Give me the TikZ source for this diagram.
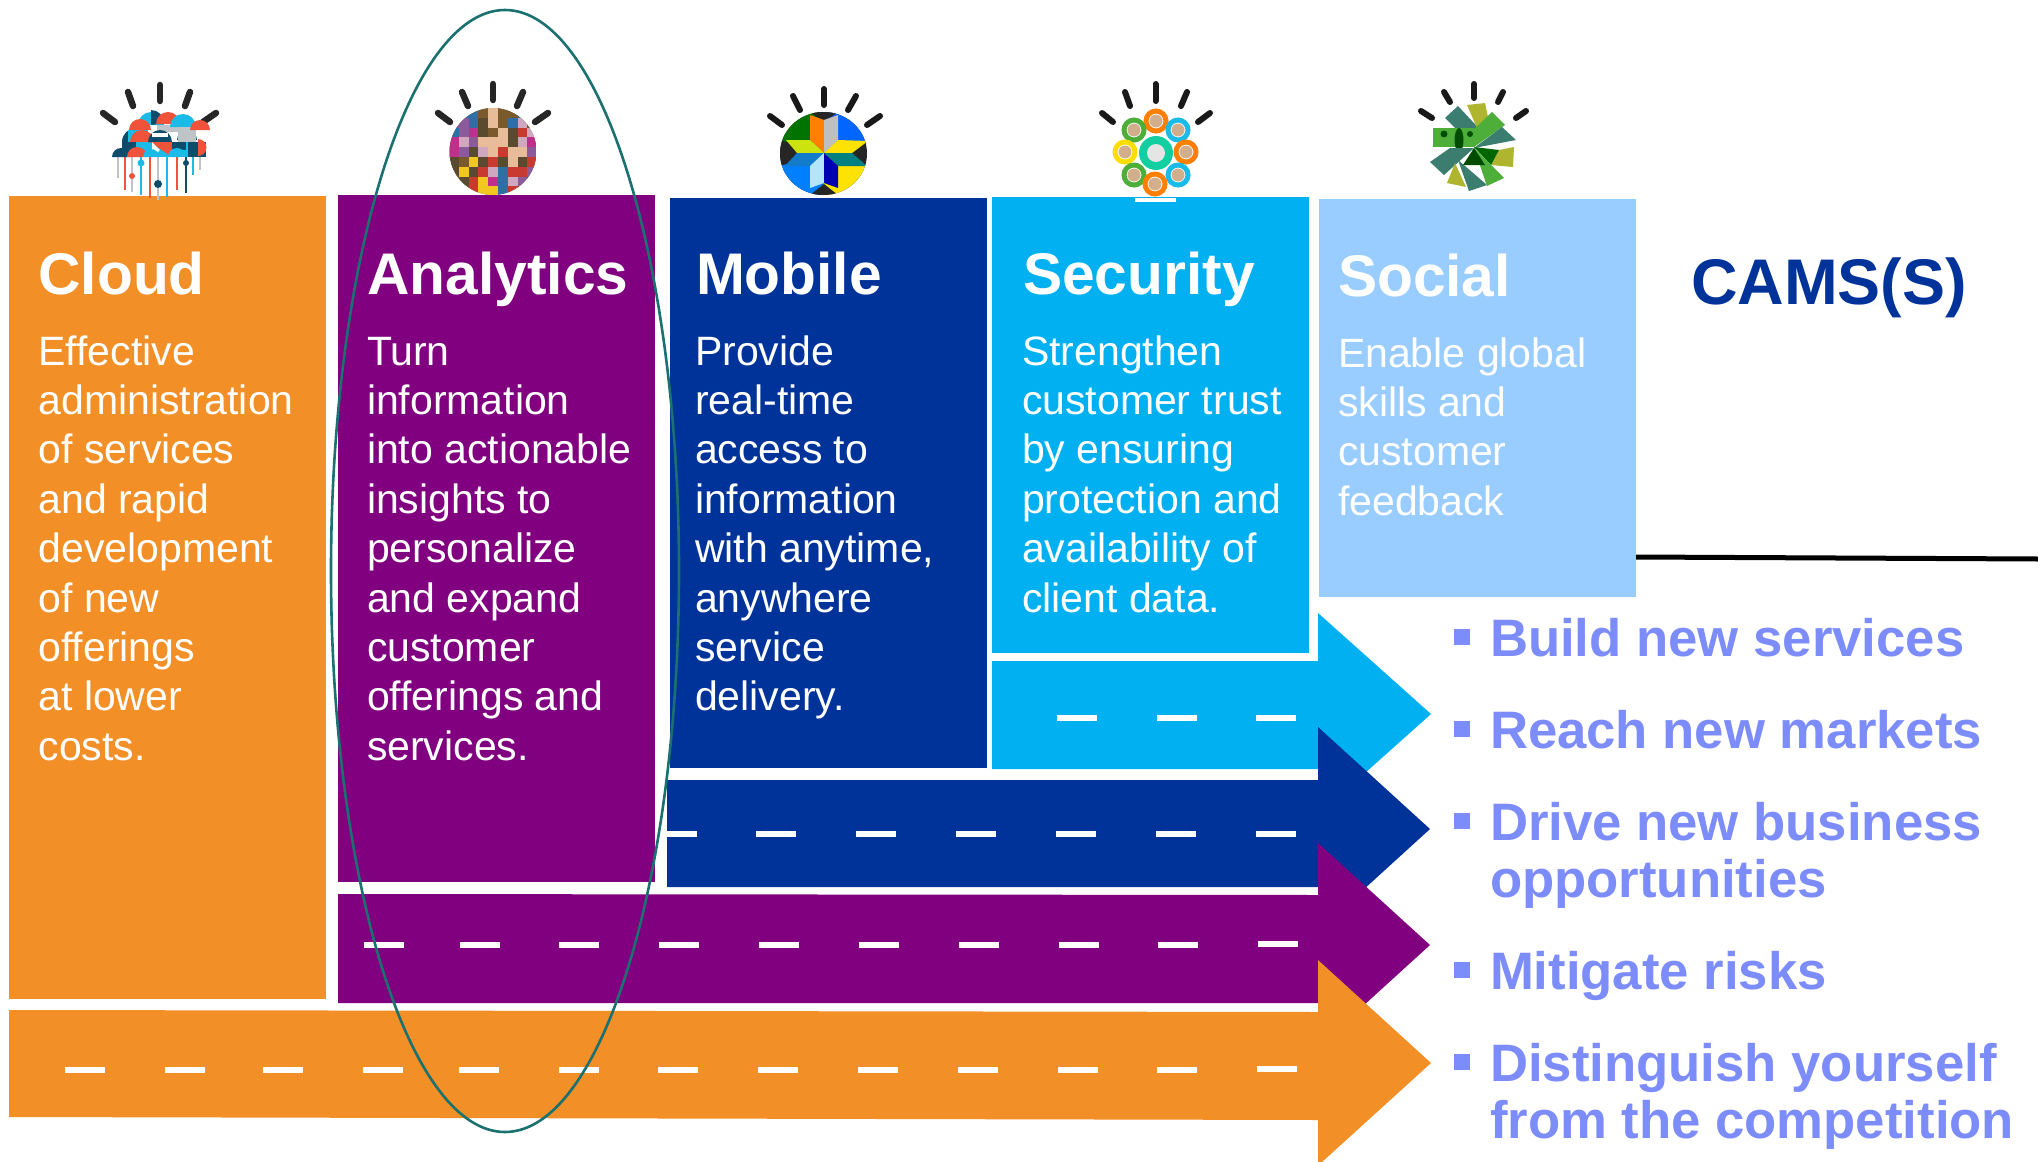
\documentclass[tikz,border=0pt]{standalone}
\usepackage{fontspec}
\setmainfont{Liberation Sans}
\definecolor{corange}{HTML}{F28F26}
\definecolor{cpurple}{HTML}{800080}
\definecolor{cblue}{HTML}{003399}
\definecolor{ccyan}{HTML}{00B0F0}
\definecolor{clight}{HTML}{99CCFF}
\definecolor{cbullet}{HTML}{7C8CFA}
\definecolor{cteal}{HTML}{1B7070}
\definecolor{cnavy}{HTML}{0F4C6B}
\definecolor{csky}{HTML}{1ABBE6}
\definecolor{cred}{HTML}{F0523A}
\definecolor{cgray}{HTML}{BFC4C8}
\definecolor{sgreen}{HTML}{4DAF3A}
\definecolor{solive}{HTML}{B0B530}
\definecolor{sdeep}{HTML}{3B7D6E}
\definecolor{mA}{HTML}{7A5A2A}
\definecolor{mB}{HTML}{2F6FA8}
\definecolor{mC}{HTML}{8A5A9A}
\definecolor{mD}{HTML}{C0308A}
\definecolor{mE}{HTML}{E8BC98}
\definecolor{mF}{HTML}{C83A30}
\definecolor{mG}{HTML}{F2C820}
\definecolor{mH}{HTML}{5A4A30}
\definecolor{mI}{HTML}{CFA8C0}
\tikzset{
  txt/.style={anchor=north west,inner sep=0pt,outer sep=0pt,align=left,text=white},
  titletxt/.style={txt,font=\fontsize{58.7}{60}\selectfont\bfseries},
  bodytxt/.style={txt,font=\fontsize{41}{49.4}\selectfont},
  sidetxt/.style={txt,text=cbullet,font=\fontsize{52.7}{57}\selectfont\bfseries},
  ray/.style={line width=6.5pt,line cap=round,draw=black!85},
  thinray/.style={line width=6pt,line cap=round,draw=black!90},
  dashbar/.style={fill=white},
  bullet/.style={fill=cbullet},
}
\newcommand{\fl}{\rule{0pt}{60pt}}
\newcommand{\halfd}[4]{\fill[#4] ({#1-#3},#2) arc[start angle=180,end angle=0,radius=#3pt] -- cycle;}
\newcommand{\drops}[3]{\draw[#3,line width=1.8pt] (#1,157) -- (#1,#2);}
\begin{document}
\begin{tikzpicture}[x=1pt,y=-1pt]
\useasboundingbox (0,0) rectangle (2038,1162);
\fill[white] (0,0) rectangle (2038,1162);

% columns
\fill[corange] (9,196) rectangle (326,999);
\fill[cpurple] (338,195) rectangle (655,882);
\fill[cblue] (670,198) rectangle (987,768);
\fill[ccyan] (992,197) rectangle (1309,653);
\fill[clight] (1319,199) rectangle (1636,597);
\fill[white] (1135,198) rectangle (1176,202);

% black rule
\draw[black,line width=5pt] (1636,557) -- (2038,559);

% arrows
\fill[ccyan] (992,661) -- (1318,661) -- (1318,613) -- (1431,714) -- (1318,815) -- (1318,769) -- (992,769) -- cycle;
\fill[cblue] (667,780) -- (1318,780) -- (1318,727) -- (1430,829) -- (1318,931) -- (1318,887) -- (667,887) -- cycle;
\fill[cpurple] (338,894) -- (1318,895) -- (1318,843) -- (1430,945) -- (1318,1047) -- (1318,1003) -- (338,1003) -- cycle;
\fill[corange] (9,1010) -- (1318,1012) -- (1318,960) -- (1431,1063) -- (1322,1162) -- (1318,1162) -- (1318,1120) -- (9,1117) -- cycle;

% dashes
\foreach \x in {1057,1157,1256} \fill[dashbar] (\x,715) rectangle +(40,6);
\fill[dashbar] (667,830.5) rectangle (697,836.5);
\foreach \x in {756,856,956,1056,1156,1256} \fill[dashbar] (\x,830.5) rectangle +(40,6);
\foreach \x in {364,460,559,659,759,859,959,1059,1158} \fill[dashbar] (\x,942) rectangle +(40,6);
\fill[dashbar] (1258,941) rectangle +(40,6);
\foreach \x in {65,165,263,363,459,559,658,758,858,958,1058,1157} \fill[dashbar] (\x,1067) rectangle +(40,6);
\fill[dashbar] (1257,1066) rectangle +(40,6);

% cloud icon
\begin{scope}
\draw[ray] (160,85) -- (160,101);
\draw[ray] (128,92) -- (133,106);
\draw[ray] (190,92) -- (185,106);
\draw[ray] (103,113) -- (115,122);
\draw[ray] (216,113) -- (203,122);
\drops{118}{178}{cgray}
\drops{125}{190}{cred}
\drops{132}{192}{cgray}
\drops{141}{195}{csky}
\drops{150}{198}{cred}
\drops{158}{200}{cgray}
\drops{167}{197}{csky}
\drops{177}{190}{cred}
\drops{186}{193}{cnavy}
\drops{193}{175}{csky}
\drops{200}{170}{cgray}
\fill[cnavy] (158,184) circle (4pt);
\fill[csky] (141,163) circle (3.5pt);
\fill[cred] (132,176) circle (3pt);
\fill[cnavy] (186,163) circle (3pt);
% body of the cloud
\fill[csky] (135,142) rectangle (206,157);
\halfd{151}{125}{13}{csky}
\fill[cnavy] (151,125) -- (151,110) arc[start angle=90,end angle=0,radius=13pt] -- (151,125);
\fill[cgray] (157,125) rectangle (181,132);
\halfd{168}{124}{12}{cred}
\fill[cnavy] (122,142) arc[start angle=180,end angle=90,radius=14pt] -- (136,142) -- cycle;
\halfd{140}{130}{11}{cred}
\fill[csky] (170,127) arc[start angle=180,end angle=0,radius=13pt] -- cycle;
\fill[cnavy] (177,140) arc[start angle=180,end angle=0,radius=10pt] -- cycle;
\fill[csky] (128,130) rectangle (148,142);
\halfd{142}{142}{12}{cred}
\fill[cgray] (178,127) rectangle (196,142);
\fill[cnavy] (148,142) arc[start angle=180,end angle=0,radius=12pt] -- cycle;
\fill[white] (152,133) rectangle (168,137);
\fill[cnavy] (122,142) rectangle (136,157);
\fill[csky] (136,142) rectangle (148,157);
\fill[cred] (150,142) -- (172,142) -- (172,157) -- cycle;
\fill[white] (152,142) -- (160,150) -- (152,157) -- cycle;
\fill[cnavy] (172,142) rectangle (186,150);
\fill[cnavy] (188,142) rectangle (206,157);
\fill[cred] (190,130) arc[start angle=180,end angle=0,radius=10pt] -- cycle;
\fill[cred] (198,139) arc[start angle=90,end angle=-90,radius=8.5pt] -- cycle;
\fill[cnavy] (112,157) arc[start angle=180,end angle=0,radius=9pt] -- cycle;
\fill[cred] (127,157) arc[start angle=180,end angle=0,radius=10pt] -- cycle;
\fill[csky] (143,157) arc[start angle=180,end angle=0,radius=8pt] -- cycle;
\fill[csky] (168,157) arc[start angle=180,end angle=0,radius=9pt] -- cycle;
\end{scope}

% analytics icon
\draw[ray] (493,84) -- (493,100);
\draw[ray] (462,92) -- (468,106);
\draw[ray] (523,92) -- (517,106);
\draw[ray] (438,113) -- (450,122);
\draw[ray] (548,113) -- (535,122);
\begin{scope}
\clip (493,151.5) ellipse [x radius=43.5pt,y radius=43.5pt];
\fill[mH] (449,108) rectangle (537,196);
\foreach \c [count=\i from 0] in {
 mA,mB,mB,mA,mE,mA,mA,mB,mA,
 mC,mC,mB,mH,mE,mA,mB,mI,mA,
 mB,mC,mD,mH,mA,mE,mH,mF,mI,
 mD,mI,mC,mE,mE,mE,mH,mI,mD,
 mD,mC,mH,mI,mE,mF,mE,mE,mC,
 mH,mA,mG,mH,mF,mH,mE,mH,mF,
 mH,mG,mH,mF,mI,mB,mF,mF,mC,
 mA,mH,mF,mG,mD,mB,mI,mC,mH,
 mA,mA,mF,mG,mG,mB,mF,mH,mA}{
  \pgfmathtruncatemacro{\cx}{mod(\i,9)}
  \pgfmathtruncatemacro{\cy}{\i/9}
  \fill[\c] ({449+\cx*9.8},{108+\cy*9.8}) rectangle +(9.8,9.8);
}
\end{scope}

% mobile icon
\draw[thinray] (824,89) -- (824,105);
\draw[thinray] (793,96) -- (800,110);
\draw[thinray] (856,96) -- (848,110);
\draw[thinray] (770,116) -- (782,125);
\draw[thinray] (880,116) -- (867,125);
\begin{scope}
\clip (823.5,153.5) ellipse [x radius=43.5pt,y radius=41.5pt];
\fill[black!85] (780,112) rectangle (867,195);
\fill[green!45!black] (780,112) -- (824,112) -- (824,153) -- (780,140) -- cycle;
\fill[blue!60!cyan] (867,112) -- (824,112) -- (824,153) -- (867,140) -- cycle;
\fill[blue!50!cyan] (780,195) -- (824,195) -- (824,153) -- (780,166) -- cycle;
\fill[yellow!85!orange] (867,195) -- (824,195) -- (824,153) -- (867,166) -- cycle;
\fill[black!85] (810,112) -- (838,112) -- (824,122) -- cycle;
\fill[black!85] (810,195) -- (838,195) -- (824,184) -- cycle;
\fill[black!85] (780,140) -- (797,153) -- (780,166) -- cycle;
\fill[black!85] (867,140) -- (852,153) -- (867,166) -- cycle;
\fill[orange] (824,153) -- (824,120) -- (810,115) -- (810,140) -- cycle;
\fill[gray!50] (824,153) -- (824,120) -- (838,115) -- (838,140) -- cycle;
\fill[yellow!80!green] (824,153) -- (810,140) -- (786,140) -- (797,153) -- cycle;
\fill[cyan!60!blue] (824,153) -- (797,153) -- (785,166) -- (810,166) -- cycle;
\fill[yellow!85!orange] (824,153) -- (838,140) -- (868,141) -- (852,153) -- cycle;
\fill[teal] (824,153) -- (852,153) -- (867,166) -- (838,166) -- cycle;
\fill[cyan!30] (824,153) -- (810,166) -- (810,188) -- (824,183) -- cycle;
\fill[blue!70!black] (824,153) -- (838,166) -- (838,188) -- (824,183) -- cycle;
\end{scope}

% security icon
\draw[thinray] (1155.5,84) -- (1155.5,101);
\draw[thinray] (1125,92) -- (1130,106);
\draw[thinray] (1187,92) -- (1181,106);
\draw[thinray] (1102,113) -- (1113,122);
\draw[thinray] (1210,113) -- (1198,122);
\fill[csky!70!green] (1156,153) circle (17pt);
\fill[white!80!gray] (1156,153) circle (9pt);
\foreach \px/\py/\cc in {1156/121/orange,1134/130/sgreen,1178/130/csky,1125/152/yellow!80!orange,1186/152/orange,1134/175/sgreen,1178/175/csky,1155/184/orange}{
  \draw[\cc,line width=5pt] (\px,\py) circle (10pt);
  \fill[cgray!70!orange] (\px,\py) circle (6.5pt);
}

% social icon
\draw[thinray] (1474,84) -- (1474,98);
\draw[thinray] (1444,92) -- (1450,102);
\draw[thinray] (1503,92) -- (1498,102);
\draw[thinray] (1421,111) -- (1432,118);
\draw[thinray] (1526,111) -- (1516,118);
\fill[sdeep] (1458,106) -- (1445,118) -- (1474,147) -- (1485,135) -- cycle;
\fill[solive] (1467,105) -- (1485,103) -- (1488,117) -- (1477,128) -- cycle;
\fill[sgreen] (1492,112) -- (1505,125) -- (1474,147) -- (1471,132) -- cycle;
\fill[sdeep] (1502,127) -- (1516,140) -- (1474,148) -- cycle;
\fill[sgreen] (1433,128) -- (1474,128) -- (1474,147) -- (1433,147) -- cycle;
\fill[green!30!black] (1444,134) circle (3.5pt);
\fill[green!30!black] (1459,140) ellipse [x radius=4.5pt,y radius=12pt];
\fill[green!30!black] (1470,134) circle (3pt);
\fill[solive] (1499,150) -- (1514,147) -- (1513,167) -- (1491,165) -- cycle;
\fill[green!40!black] (1474,147) -- (1499,150) -- (1491,165) -- cycle;
\fill[sdeep] (1430,162) -- (1444,175) -- (1474,148) -- (1450,148) -- cycle;
\fill[solive] (1455,163) -- (1466,187) -- (1447,183) -- cycle;
\fill[sdeep] (1458,160) -- (1487,185) -- (1469,191) -- cycle;
\fill[sgreen] (1474,148) -- (1504,178) -- (1487,186) -- cycle;
\fill[green!30!black] (1474,148) -- (1485,165) -- (1463,165) -- cycle;

% column texts (y = baseline - 60)
\node[titletxt] (cloudT) at (38.5,234) {\fl Cloud};
\node[bodytxt] (cloudB) at (38.5,305) {\fl Effective\\administration\\of services\\and rapid\\development\\of new\\offerings\\at lower\\costs.};
\node[titletxt] (anaT) at (367.5,234) {\fl Analytics};
\node[bodytxt] (anaB) at (367,305) {\fl Turn\\information\\into actionable\\insights to\\personalize\\and expand\\customer\\offerings and\\services.};
\node[titletxt] (mobT) at (696,234) {\fl Mobile};
\node[bodytxt] (mobB) at (695,305) {\fl Provide\\real-time\\access to\\information\\with anytime,\\anywhere\\service\\delivery.};
\node[titletxt] (secT) at (1023,234) {\fl Security};
\node[bodytxt] (secB) at (1022,305) {\fl Strengthen\\customer trust\\by ensuring\\protection and\\availability of\\client data.};
\node[titletxt] (socT) at (1338,236) {\fl Social};
\node[bodytxt] (socB) at (1338,307) {\fl Enable global\\skills and\\customer\\feedback};

\node[txt,text=cblue,font=\fontsize{64.5}{66}\selectfont\bfseries] (cams) at (1691,244) {\fl CAMS(S)};

% bullets
\foreach \yy in {629,721,813,962,1054} \fill[bullet] (1454,\yy) rectangle +(16,16);
\node[sidetxt] (s1) at (1490,596) {\fl Build new services};
\node[sidetxt] (s2) at (1490,688) {\fl Reach new markets};
\node[sidetxt] (s3) at (1490,780) {\fl Drive new business\\opportunities};
\node[sidetxt] (s4) at (1490,929) {\fl Mitigate risks};
\node[sidetxt] (s5) at (1490,1021) {\fl Distinguish yourself\\from the competition};

% highlight ellipse
\draw[cteal,line width=2.6pt] (505,571) ellipse [x radius=174pt,y radius=561pt];
\end{tikzpicture}
\end{document}
